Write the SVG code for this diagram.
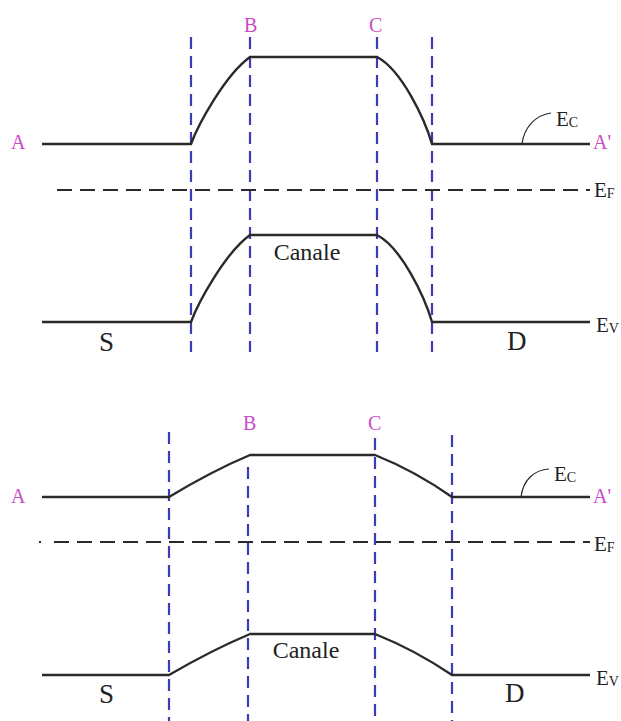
<svg xmlns="http://www.w3.org/2000/svg" width="621" height="721" viewBox="0 0 621 721">
<style>
.band{fill:none;stroke:#2a2a2a;stroke-width:2.4}
.ef{fill:none;stroke:#2a2a2a;stroke-width:2;stroke-dasharray:15 8}
.vd{fill:none;stroke:#3c3cb4;stroke-width:2.2;stroke-dasharray:12 7}
.lead{fill:none;stroke:#2a2a2a;stroke-width:1.2}
.pt{font-family:"Liberation Serif",serif;font-size:20px;fill:#c84cc8}
.lb{font-family:"Liberation Serif",serif;font-size:21px;fill:#222}
.cn{font-family:"Liberation Serif",serif;font-size:24px;fill:#222}
.big{font-family:"Liberation Serif",serif;font-size:27px;fill:#222}
.sub{font-size:14px}
</style>
<rect width="621" height="721" fill="#ffffff"/>
<g id="connectors">
<line class="vd" x1="191" y1="37" x2="191" y2="352"/>
<line class="vd" x1="250" y1="37" x2="250" y2="352"/>
<line class="vd" x1="377" y1="37" x2="377" y2="352"/>
<line class="vd" x1="432" y1="37" x2="432" y2="352"/>
<line class="vd" x1="169" y1="432" x2="169" y2="721"/>
<line class="vd" x1="248" y1="467" x2="248" y2="721"/>
<line class="vd" x1="375" y1="438" x2="375" y2="721"/>
<line class="vd" x1="452" y1="435" x2="452" y2="721"/>
</g>
<g id="top-diagram">
<path class="band" d="M42,144 H191 C198,125 225,75 250,57 H377 C402,70 425,120 432,144 H590"/>
<line class="ef" x1="57" y1="190" x2="590" y2="190"/>
<path class="band" d="M42,322 H191 C198,303 225,253 250,235 H377 C402,248 425,298 432,322 H590"/>
<path class="lead" d="M522,144 C524,127 536,115 551,113"/>
<text class="pt" x="11" y="149">A</text>
<text class="pt" x="593" y="149">A'</text>
<text class="pt" x="244" y="32">B</text>
<text class="pt" x="369" y="32">C</text>
<text class="lb" x="556" y="126">E<tspan class="sub" dy="1">C</tspan></text>
<text class="lb" x="594" y="197">E<tspan class="sub" dy="1">F</tspan></text>
<text class="lb" x="596" y="332">E<tspan class="sub" dy="1">V</tspan></text>
<text class="big" x="99" y="351">S</text>
<text class="big" x="507" y="350">D</text>
<text class="cn" x="307" y="260" text-anchor="middle">Canale</text>
</g>
<g id="bottom-diagram">
<path class="band" d="M42,497 H169 Q212,471 250,455 H375 Q415,471 452,497 H590"/>
<line class="ef" x1="39" y1="542" x2="41" y2="542" style="stroke-dasharray:none"/>
<line class="ef" x1="54" y1="542" x2="590" y2="542"/>
<path class="band" d="M42,675 H169 Q212,650 250,634 H375 Q415,650 452,675 H590"/>
<path class="lead" d="M521,497 C523,480 534,470 549,469"/>
<text class="pt" x="11" y="503">A</text>
<text class="pt" x="593" y="503">A'</text>
<text class="pt" x="243" y="430">B</text>
<text class="pt" x="368" y="430">C</text>
<text class="lb" x="554" y="481">E<tspan class="sub" dy="1">C</tspan></text>
<text class="lb" x="594" y="551">E<tspan class="sub" dy="1">F</tspan></text>
<text class="lb" x="596" y="685">E<tspan class="sub" dy="1">V</tspan></text>
<text class="big" x="99" y="703">S</text>
<text class="big" x="505" y="702">D</text>
<text class="cn" x="306" y="658" text-anchor="middle">Canale</text>
</g>
</svg>
